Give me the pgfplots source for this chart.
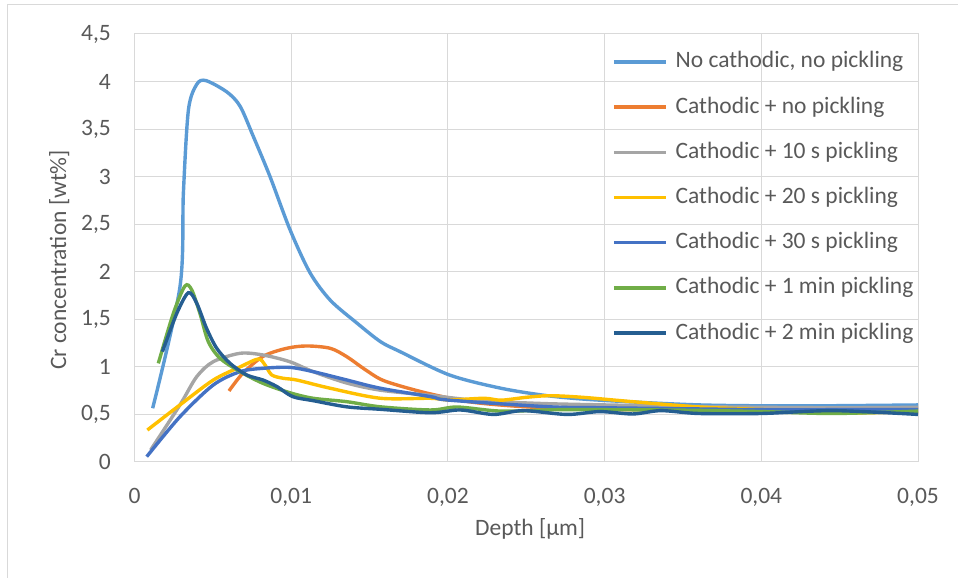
\documentclass[border=0pt]{standalone}
\usepackage{fontspec}
\setmainfont{Carlito}
\usepackage{pgfplots}
\pgfplotsset{compat=1.18}

\definecolor{sNone}{HTML}{5B9BD5}
\definecolor{sCath}{HTML}{ED7D31}
\definecolor{sTen}{HTML}{A5A5A5}
\definecolor{sTwenty}{HTML}{FFC000}
\definecolor{sThirty}{HTML}{4472C4}
\definecolor{sOne}{HTML}{70AD47}
\definecolor{sTwo}{HTML}{255E91}
\definecolor{gridgray}{HTML}{D9D9D9}
\definecolor{labelgray}{HTML}{595959}

\newcommand\chartfont{\fontsize{23.5bp}{28bp}\selectfont}

\begin{document}
\begin{tikzpicture}
\useasboundingbox (0,0) rectangle (958bp,578bp);
% chart frame (top and left edges)
\draw[gridgray, line width=1.2bp] (7.5bp,0bp) -- (7.5bp,573.5bp) -- (958bp,573.5bp);
\begin{axis}[
  at={(134.5bp,116bp)}, anchor=south west,
  scale only axis, width=783.5bp, height=428bp,
  xmin=0, xmax=0.05, ymin=0, ymax=4.5,
  scaled x ticks=false, scaled y ticks=false,
  xtick={0,0.01,0.02,0.03,0.04,0.05},
  xticklabels={0,{0,01},{0,02},{0,03},{0,04},{0,05}},
  ytick={0,0.5,1,1.5,2,2.5,3,3.5,4,4.5},
  yticklabels={0,{0,5},1,{1,5},2,{2,5},3,{3,5},4,{4,5}},
  grid=major,
  major grid style={draw=gridgray, line width=1bp},
  axis line style={draw=gridgray, line width=1bp},
  major tick length=0pt,
  tick label style={font=\chartfont, text=labelgray},
  xticklabel style={anchor=north, inner sep=0pt, yshift=-26bp},
  yticklabel style={anchor=east, inner sep=0pt, xshift=-23.5bp},
  every axis x label/.style={at={(axis description cs:0.505,0)}, anchor=base, yshift=-73bp, inner sep=0pt, font=\chartfont, text=labelgray},
  every axis y label/.style={at={(axis description cs:-0.0874,0.472)}, rotate=90, anchor=base, inner sep=0pt, font=\chartfont, text=labelgray},
  xlabel={Depth [µm]},
  ylabel={Cr concentration [wt\%]},
  legend style={at={(axis description cs:0.6095,0.961)}, anchor=north west,
    draw=none, fill=none, inner sep=0pt, row sep=23.2bp, column sep=8bp,
    font=\chartfont, text=labelgray, cells={anchor=west},
    nodes={inner sep=0pt, text height=17bp, text depth=5bp}},
  legend image code/.code={\draw[#1] (0bp,0bp) -- (52bp,0bp);},
  every axis plot/.append style={line width=3.4bp, smooth, tension=0.5},
]
\addplot[sNone] coordinates {
 (0.00116,0.565) (0.0029,1.84) (0.00312,2.83) (0.00344,3.70) (0.00397,3.97)
 (0.00456,4.01) (0.0059,3.89) (0.00674,3.74) (0.00759,3.42) (0.00865,3.0)
 (0.00993,2.44) (0.0112,1.99) (0.0125,1.70) (0.0142,1.46) (0.0157,1.265)
 (0.01695,1.16) (0.0201,0.915) (0.0234,0.775) (0.0265,0.694) (0.0297,0.65)
 (0.0361,0.60) (0.0425,0.59) (0.05,0.60)};
\addlegendentry{No cathodic, no pickling}
\addplot[sCath] coordinates {
 (0.00603,0.747) (0.0069,0.93) (0.0082,1.11) (0.0097,1.195) (0.011,1.22)
 (0.0125,1.195) (0.01355,1.107) (0.0146,0.985) (0.0157,0.87) (0.01695,0.80)
 (0.0189,0.715) (0.0215,0.63) (0.025,0.58) (0.03,0.55) (0.035,0.555)
 (0.04,0.56) (0.045,0.56) (0.05,0.56)};
\addlegendentry{Cathodic + no pickling}
\addplot[sTen] coordinates {
 (0.00103,0.126) (0.0029,0.60) (0.00397,0.897) (0.00503,1.055) (0.00674,1.143)
 (0.0082,1.125) (0.0099,1.055) (0.0114,0.95) (0.01355,0.83) (0.0157,0.755)
 (0.0189,0.70) (0.022,0.645) (0.026,0.615) (0.03,0.60) (0.035,0.585)
 (0.04,0.575) (0.045,0.57) (0.05,0.575)};
\addlegendentry{Cathodic + 10 s pickling}
\addplot[sTwenty] coordinates {
 (0.00082,0.336) (0.0029,0.60) (0.00503,0.862) (0.00674,1.0) (0.0079,1.083)
 (0.00833,1.02) (0.00876,0.915) (0.0095,0.88) (0.01035,0.862) (0.0125,0.775)
 (0.0157,0.67) (0.0189,0.67) (0.0201,0.652) (0.0223,0.67) (0.0234,0.65)
 (0.025,0.68) (0.0265,0.697) (0.0286,0.68) (0.0318,0.634) (0.0361,0.578)
 (0.0403,0.55) (0.0446,0.515) (0.05,0.53)};
\addlegendentry{Cathodic + 20 s pickling}
\addplot[sThirty] coordinates {
 (0.00078,0.056) (0.0029,0.476) (0.00503,0.81) (0.00674,0.95) (0.0082,0.985)
 (0.0099,0.995) (0.0114,0.95) (0.01355,0.862) (0.0157,0.775) (0.0189,0.687)
 (0.0201,0.65) (0.0265,0.58) (0.03,0.57) (0.035,0.56) (0.04,0.55)
 (0.045,0.55) (0.05,0.55)};
\addlegendentry{Cathodic + 30 s pickling}
\addplot[sOne] coordinates {
 (0.00152,1.037) (0.00248,1.563) (0.00322,1.85) (0.00365,1.81) (0.00418,1.56)
 (0.00471,1.265) (0.00546,1.09) (0.00674,0.95) (0.0082,0.827) (0.0099,0.729)
 (0.0114,0.67) (0.01355,0.634) (0.0157,0.58) (0.0189,0.547) (0.0206,0.578)
 (0.0234,0.535) (0.027,0.55) (0.03,0.55) (0.035,0.545) (0.04,0.53)
 (0.0446,0.51) (0.05,0.535)};
\addlegendentry{Cathodic + 1 min pickling}
\addplot[sTwo] coordinates {
 (0.00178,1.16) (0.0027,1.563) (0.00344,1.78) (0.00397,1.67) (0.0046,1.405)
 (0.00525,1.195) (0.0061,1.037) (0.00716,0.915) (0.0082,0.862) (0.0091,0.792)
 (0.0101,0.687) (0.0114,0.645) (0.01355,0.58) (0.0157,0.554) (0.0189,0.518)
 (0.0208,0.547) (0.0229,0.50) (0.0248,0.54) (0.0276,0.50) (0.0297,0.53)
 (0.0318,0.505) (0.0336,0.54) (0.036,0.51) (0.04,0.51) (0.0446,0.54)
 (0.05,0.50)};
\addlegendentry{Cathodic + 2 min pickling}
\end{axis}
\end{tikzpicture}
\end{document}
